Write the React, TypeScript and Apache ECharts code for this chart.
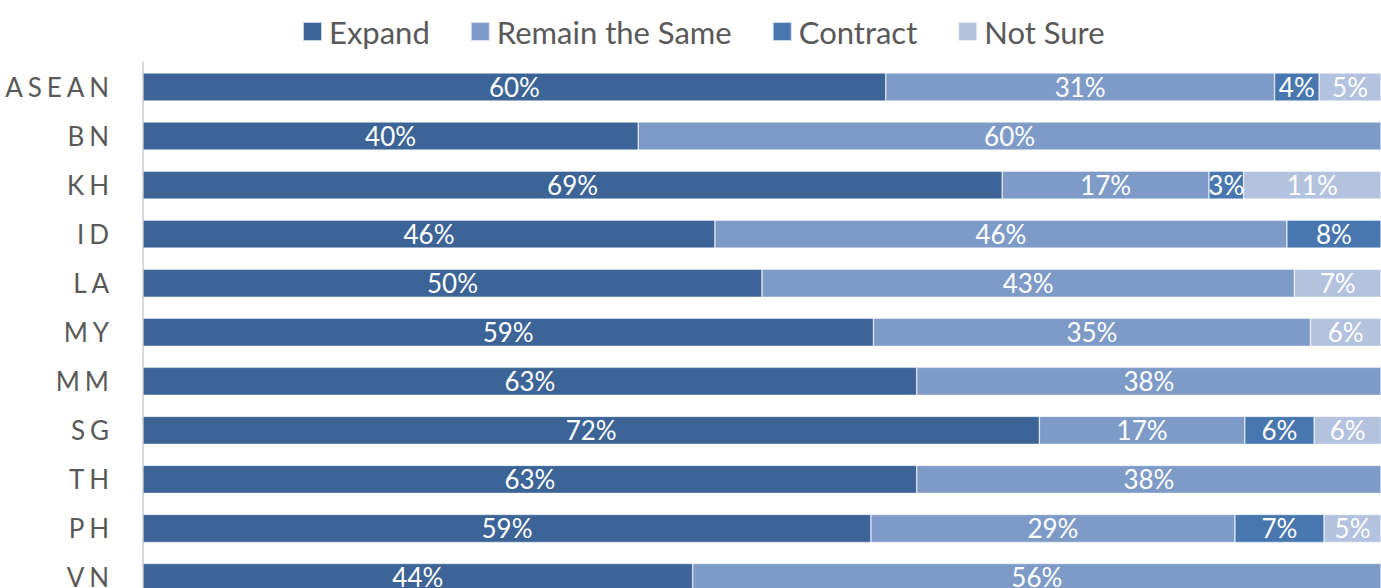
import React, { useEffect, useRef } from "react";
import * as echarts from "echarts";

const categories = ["ASEAN", "BN", "KH", "ID", "LA", "MY", "MM", "SG", "TH", "PH", "VN"];
const expand = [60, 40, 69.4, 46.2, 50, 59, 62.5, 72.4, 62.5, 58.8, 44.4];
const remainSame = [31.4, 60, 16.7, 46.2, 43, 35.3, 37.5, 16.6, 37.5, 29.4, 55.6];
const contract = [3.6, null, 2.8, 7.6, null, null, null, 5.6, null, 7.2, null];
const notSure = [5, null, 11.1, null, 7, 5.7, null, 5.5, null, 4.6, null];

const seriesNames = ["Expand", "Remain the Same", "Contract", "Not Sure"];
const seriesColors = ["#3c6496", "#7e9bc8", "#4877b0", "#b3c2df"];

const FONT = "Lato, 'Noto Sans', sans-serif";

export default function App() {
  const ref = useRef<HTMLDivElement>(null);
  useEffect(() => {
    if (!ref.current) return;
    const chart = echarts.init(ref.current, undefined, { renderer: "svg" });
    const datas = [expand, remainSame, contract, notSure];
    chart.setOption({
      animation: false,
      legend: {
        top: 11,
        left: 297,
        itemWidth: 19,
        itemHeight: 19,
        itemGap: 40,
        icon: "rect",
        textStyle: { fontFamily: FONT, fontSize: 31, color: "#595959", padding: [0, 0, 0, 2] },
        data: seriesNames,
      },
      grid: { left: 143, right: 0, top: 62.5, bottom: 0, containLabel: false },
      xAxis: {
        type: "value",
        min: 0,
        max: 100,
        show: false,
      },
      yAxis: {
        type: "category",
        inverse: true,
        data: categories,
        axisLine: { show: true, lineStyle: { color: "#d9d9d9", width: 2 } },
        axisTick: { show: false },
        axisLabel: {
          margin: 34,
          fontFamily: FONT,
          fontSize: 26,
          color: "#595959",
          formatter: (v: string) => v.split("").join("\u2009\u200a"),
        },
      },
      series: datas.map((d, i) => ({
        name: seriesNames[i],
        type: "bar",
        stack: "total",
        barWidth: 28,
        data: d,
        itemStyle: { color: seriesColors[i], borderColor: "rgba(255,255,255,0.7)", borderWidth: 0.6 },
        label: {
          show: true,
          position: "inside",
          color: "#ffffff",
          fontFamily: FONT,
          fontSize: 26,
          formatter: (p: any) => (p.value == null ? "" : Math.round(p.value) + "%"),
        },
      })),
    });
    return () => chart.dispose();
  }, []);
  return (
    <div
      ref={ref}
      style={{ position: "fixed", left: 0, top: 0, width: 1381, height: 602, background: "#fff" }}
    />
  );
}
